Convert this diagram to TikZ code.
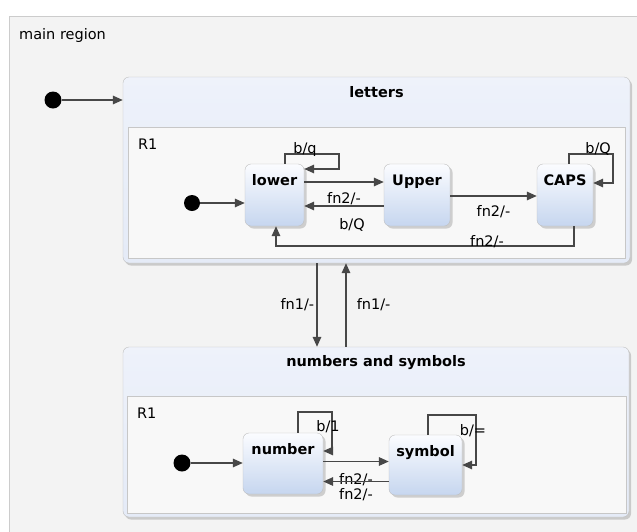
\documentclass[tikz,border=0pt]{standalone}
\usepackage{fontspec}
\setsansfont{DejaVu Sans}
\usetikzlibrary{arrows.meta,shadows}

\definecolor{statetop}{HTML}{FBFCFF}
\definecolor{statebot}{HTML}{C6D6EF}
\definecolor{compbot}{HTML}{C8D6EE}
\definecolor{headblue}{HTML}{EDF1FA}
\definecolor{regionfill}{HTML}{F8F8F8}
\definecolor{mainfill}{HTML}{F3F3F3}
\definecolor{edgegray}{HTML}{474747}

\pgfdeclareverticalshading{compshade}{100bp}{color(0bp)=(compbot); color(10bp)=(headblue!70!compbot);
  color(72bp)=(headblue); color(100bp)=(white)}

\begin{document}
\fontsize{14.5}{17}\selectfont
\begin{tikzpicture}[
  x=1pt, y=-1pt,
  every node/.style={font=\sffamily},
  mainregion/.style={draw=black!20, fill=mainfill, inner sep=0pt},
  composite/.style={draw=black!25, rounded corners=6pt, inner sep=0pt, shading=compshade,
    drop shadow={shadow xshift=2pt, shadow yshift=-2.5pt, opacity=0.35}},
  region/.style={draw=black!22, fill=regionfill, inner sep=0pt},
  state/.style={draw=black!25, rounded corners=6pt, inner sep=0pt, top color=statetop, bottom color=statebot,
    drop shadow={shadow xshift=2.5pt, shadow yshift=-2.5pt, opacity=0.35}},
  title/.style={anchor=base, inner sep=0pt, font=\sffamily\bfseries},
  init/.style={circle, fill=black, minimum size=16pt, inner sep=0pt},
  trans/.style={-{Triangle[length=10pt,width=8.5pt]}, draw=edgegray, line width=1.6pt},
  lbl/.style={inner sep=0pt}
]
\useasboundingbox (0,0) rectangle (637,531);

% Main region
\node[mainregion, minimum width=660pt, minimum height=540pt, anchor=north west,
  label={[anchor=base west, inner sep=0pt, xshift=10pt, yshift=-23pt]north west:main region}] (main) at (9,16) {};
\node[init, minimum size=17pt] (init0) at (53,100) {};

% Composite states
\node[composite, minimum width=507pt, minimum height=186pt,
  label={[title, yshift=-21pt]north:letters}] (letters) at (376.5,170) {};
\node[region, minimum width=497pt, minimum height=131pt,
  label={[anchor=base west, inner sep=0pt, xshift=10pt, yshift=-23pt]north west:R1}] (lettersR1) at (376.5,192.5) {};

\node[composite, minimum width=506pt, minimum height=170pt,
  label={[title, yshift=-20pt]north:numbers and symbols}] (numbers) at (376,432) {};
\node[region, minimum width=499pt, minimum height=117pt,
  label={[anchor=base west, inner sep=0pt, xshift=10pt, yshift=-23pt]north west:R1}] (numbersR1) at (376.5,454.5) {};

% Letters
\node[init] (initL) at (192,203) {};
\node[state, minimum width=59pt, minimum height=62pt, label={[title, yshift=-22pt]north:lower}] (lower) at (274.5,195) {};
\node[state, minimum width=66pt, minimum height=62pt, label={[title, yshift=-22pt]north:Upper}] (Upper) at (417,195) {};
\node[state, minimum width=56pt, minimum height=62pt, label={[title, yshift=-22pt]north:CAPS}] (CAPS) at (565,195) {};

% Numbers and symbols
\node[init, minimum size=17pt] (initN) at (182,463) {};
\node[state, minimum width=80pt, minimum height=61pt, label={[title, yshift=-22pt]north:number}] (number) at (283,463.5) {};
\node[state, minimum width=73pt, minimum height=60pt, label={[title, yshift=-22pt]north:symbol}] (symbol) at (425.5,465) {};

% Transitions
\draw[trans] (init0) -- (init0 -| letters.west);
\draw[trans] ([xshift=-59.5pt]letters.south) -- ([xshift=-59.5pt]letters.south |- numbers.north)
  node[lbl, midway, left=2pt] {fn1/-};
\draw[trans] ([xshift=-30pt]numbers.north) -- ([xshift=-30pt]numbers.north |- letters.south)
  node[lbl, midway, right=10pt] {fn1/-};

\draw[trans] (initL) -- (initL -| lower.west);
\draw[trans] ([xshift=10.5pt]lower.north) -- ++(0,-10) -- ++(54,0)
  node[lbl, pos=0.37, anchor=base] {b/q} |- ([yshift=26pt]lower.east);
\draw[trans] ([yshift=13pt]lower.east) -- ([yshift=13pt]lower.east -| Upper.west)
  node[lbl, midway, below=10pt] {fn2/-};
\draw[trans] ([yshift=-11pt]Upper.west) -- ([yshift=-11pt]Upper.west -| lower.east)
  node[lbl, midway, below=12pt, xshift=8pt] {b/Q};
\draw[trans] ([yshift=-1pt]Upper.east) -- ([yshift=-1pt]Upper.east -| CAPS.west)
  node[lbl, midway, below=9pt] {fn2/-};
\draw[trans] ([xshift=4pt]CAPS.north) -- ++(0,-10) -- ++(44,0)
  node[lbl, pos=0.66, anchor=base] {b/Q} |- ([yshift=12pt]CAPS.east);
\draw[trans] ([xshift=9pt]CAPS.south) -- ++(0,20) -| ([xshift=1.5pt]lower.south)
  node[lbl, pos=0.146, anchor=base] {fn2/-};

\draw[trans] (initN) -- (initN -| number.west);
\draw[trans] ([xshift=15pt]number.north) -- ++(0,-21) -- ++(34,0) |- ([yshift=12.5pt]number.east)
  node[lbl, pos=0.19, xshift=-4pt] {b/1};
\draw[trans] ([yshift=2pt]number.east) -- ([yshift=2pt]number.east -| symbol.west)
  node[lbl, midway, below=11pt] {fn2/-};
\draw[trans] ([yshift=-18pt]number.east -| symbol.west) -- ([yshift=-18pt]number.east)
  node[lbl, midway, below=6pt] {fn2/-};
\draw[trans] ([xshift=2.5pt]symbol.north) -- ++(0,-20) -- ++(48,0) |- (symbol.east)
  node[lbl, pos=0.16, xshift=-3pt] {b/=};

\end{tikzpicture}
\end{document}
